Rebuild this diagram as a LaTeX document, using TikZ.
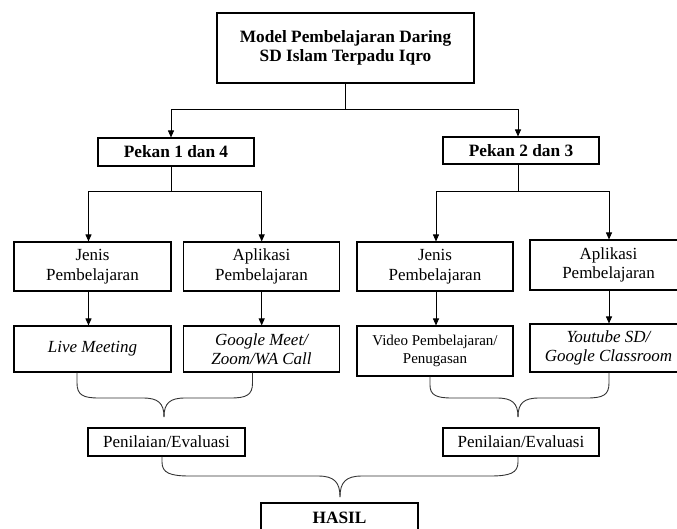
\documentclass[tikz,border=0pt]{standalone}
\usepackage{fontspec}
\setmainfont{Liberation Serif}
\usetikzlibrary{arrows.meta,calc}
\begin{document}
\begin{tikzpicture}[x=1pt,y=-1pt,
  box/.style={draw=black,line width=1.1pt,align=center,inner sep=0pt,font=\fontsize{17}{19.5}\selectfont},
  bbox/.style={box,font=\bfseries\fontsize{17.3}{18.5}\selectfont},
  ibox/.style={box,font=\itshape\fontsize{17}{19.5}\selectfont},
  line/.style={line width=0.9pt},
  conn/.style={line width=0.9pt,-{Triangle[length=7pt,width=6pt]}},
  brc/.style={line width=0.9pt,draw=black!80}]
\useasboundingbox (0,0) rectangle (677,528);
\node[bbox,minimum width=257pt,minimum height=70pt] (top) at (345.5,48) {Model Pembelajaran Daring\\SD Islam Terpadu Iqro};
\node[bbox,minimum width=156pt,minimum height=28pt] (p14) at (176,152) {Pekan 1 dan 4};
\node[bbox,minimum width=156pt,minimum height=27pt] (p23) at (521,150.5) {Pekan 2 dan 3};
\node[box,minimum width=157pt,minimum height=49pt] (j1) at (92.5,266.5) {Jenis\\Pembelajaran};
\node[box,minimum width=156pt,minimum height=49pt] (a1) at (261.5,266.5) {Aplikasi\\Pembelajaran};
\node[box,minimum width=156pt,minimum height=49pt] (j2) at (435,266.5) {Jenis\\Pembelajaran};
\node[box,minimum width=157pt,minimum height=50pt] (a2) at (608.5,265) {Aplikasi\\Pembelajaran};
\node[ibox,minimum width=157pt,minimum height=46pt] (lm) at (92.5,349) {Live Meeting};
\node[ibox,minimum width=156pt,minimum height=46pt] (gm) at (261.5,349) {Google Meet/\\Zoom/WA Call};
\node[box,minimum width=156pt,minimum height=50pt,font=\fontsize{15}{17.5}\selectfont] (vp) at (435,351) {Video Pembelajaran/\\Penugasan};
\node[ibox,minimum width=157pt,minimum height=48pt] (yt) at (608.5,348) {Youtube SD/\\Google Classroom};
\node[box,minimum width=157pt,minimum height=28pt] (pe1) at (166.5,442) {Penilaian/Evaluasi};
\node[box,minimum width=156pt,minimum height=28pt] (pe2) at (521,442) {Penilaian/Evaluasi};
\node[bbox,minimum width=157pt,minimum height=30pt] (hasil) at (339.5,518) {HASIL};
% top split
\coordinate (jt) at ($(top.south)+(0,26)$);
\draw[line] (top.south) -- (jt);
\draw[conn] (jt) -| ([xshift=-5pt]p14.north);
\draw[conn] (jt) -| ([xshift=-3pt]p23.north);
% pekan splits
\draw[conn] ([xshift=-5pt]p14.south) -- ++(0,25) -| ([xshift=-4pt]j1.north);
\draw[conn] ([xshift=-5pt]p14.south) -- ++(0,25) -| ([xshift=0.2pt]a1.north);
\draw[conn] ([xshift=-3pt]p23.south) -- ++(0,27) -| ([xshift=1pt]j2.north);
\draw[conn] ([xshift=-3pt]p23.south) -- ++(0,27) -| ([xshift=0.5pt]a2.north);
% down arrows
\draw[conn] ([xshift=-4pt]j1.south) -- ([xshift=-4pt]lm.north);
\draw[conn] ([xshift=0.2pt]a1.south) -- ([xshift=0.2pt]gm.north);
\draw[conn] ([xshift=1pt]j2.south) -- ([xshift=1pt]vp.north);
\draw[conn] ([xshift=0.5pt]a2.south) -- ([xshift=0.5pt]yt.north);
% braces
\coordinate (b1l) at ([xshift=-15.5pt]lm.south);
\coordinate (b1r) at ([xshift=-9pt]gm.south);
\coordinate (b1t) at (164,417);
\draw[brc] (b1l) -- (77,383) .. controls (77,395) and (83,398) .. (99,398) -- (143,398) .. controls (158,398) and (164,403) .. (b1t);
\draw[brc] (b1r) -- (252.5,383) .. controls (252.5,395) and (246.5,398) .. (230.5,398) -- (185,398) .. controls (170,398) and (164,403) .. (b1t);
\coordinate (b2l) at ([xshift=-5pt]vp.south);
\coordinate (b2r) at ([xshift=0.5pt]yt.south);
\coordinate (b2t) at (518,417);
\draw[brc] (b2l) -- (430,385) .. controls (430,395) and (436,398) .. (452,398) -- (497,398) .. controls (512,398) and (518,403) .. (b2t);
\draw[brc] (b2r) -- (609,383) .. controls (609,395) and (603,398) .. (587,398) -- (539,398) .. controls (524,398) and (518,403) .. (b2t);
\coordinate (b3l) at ([xshift=-4.5pt]pe1.south);
\coordinate (b3r) at ([xshift=-3pt]pe2.south);
\coordinate (b3t) at (340,497);
\draw[brc] (b3l) -- (162,462) .. controls (162,473) and (170,476) .. (190,476) -- (318,476) .. controls (334,476) and (340,482) .. (b3t);
\draw[brc] (b3r) -- (518,462) .. controls (518,473) and (510,476) .. (490,476) -- (362,476) .. controls (346,476) and (340,482) .. (b3t);
\end{tikzpicture}
\end{document}
